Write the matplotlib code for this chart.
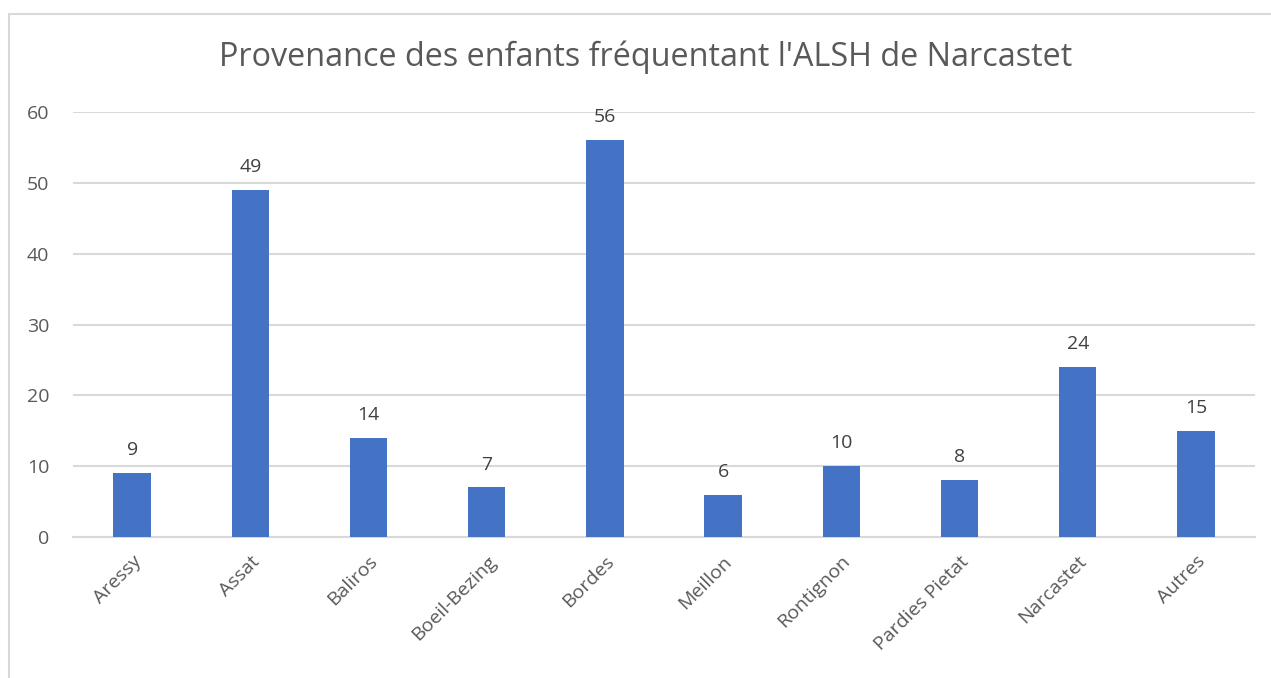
import matplotlib.pyplot as plt
from matplotlib.patches import Rectangle

communes = ["Aressy", "Assat", "Baliros", "Boeil-Bezing", "Bordes", "Meillon",
            "Rontignon", "Pardies Pietat", "Narcastet", "Autres"]
enfants = [9, 49, 14, 7, 56, 6, 10, 8, 24, 15]
y_ticks = [0, 10, 20, 30, 40, 50, 60]
titre = "Provenance des enfants fréquentant l'ALSH de Narcastet"

plt.rcParams['font.family'] = ['Open Sans', 'DejaVu Sans']

W, H = 1271, 678
fig = plt.figure(figsize=(W / 100, H / 100), dpi=100)
ax = fig.add_axes([73 / W, 1 - 537 / H, (1255 - 73) / W, (537 - 112) / H])

# chart border (cut off at right and bottom in the original)
fig.patches.append(Rectangle((8.5 / W, -0.1), 1.2, 1 - 13.5 / H + 0.1,
                             transform=fig.transFigure, fill=False,
                             edgecolor="#D9D9D9", linewidth=1.5))

x = list(range(len(communes)))
bars = ax.bar(x, enfants, width=0.315, color="#4472C4", zorder=3)

for xi, v in zip(x, enfants):
    ax.annotate(str(v), (xi, v), xytext=(0, 10), textcoords="offset points",
                ha="center", va="bottom", fontsize=14, color="#404040")

ax.set_xlim(-0.5, len(communes) - 0.5)
ax.set_ylim(0, 60)
ax.set_yticks(y_ticks)
ax.set_yticklabels([str(t) for t in y_ticks], fontsize=14, color="#595959")
ax.set_xticks(x)
ax.set_xticklabels(communes, rotation=45, ha="right", rotation_mode="anchor",
                   fontsize=14, color="#595959")
ax.tick_params(axis="both", length=0)
ax.tick_params(axis="y", pad=17)
ax.tick_params(axis="x", pad=11)
ax.grid(axis="y", color="#D9D9D9", linewidth=1.5, zorder=0)
for s in ["top", "right", "left"]:
    ax.spines[s].set_visible(False)
ax.spines["bottom"].set_color("#D9D9D9")
ax.spines["bottom"].set_linewidth(1.5)

fig.text(646 / W, 1 - 57 / H, titre, ha="center", va="center",
         fontsize=23.3, color="#595959")

fig.savefig("out.png", dpi=100)
